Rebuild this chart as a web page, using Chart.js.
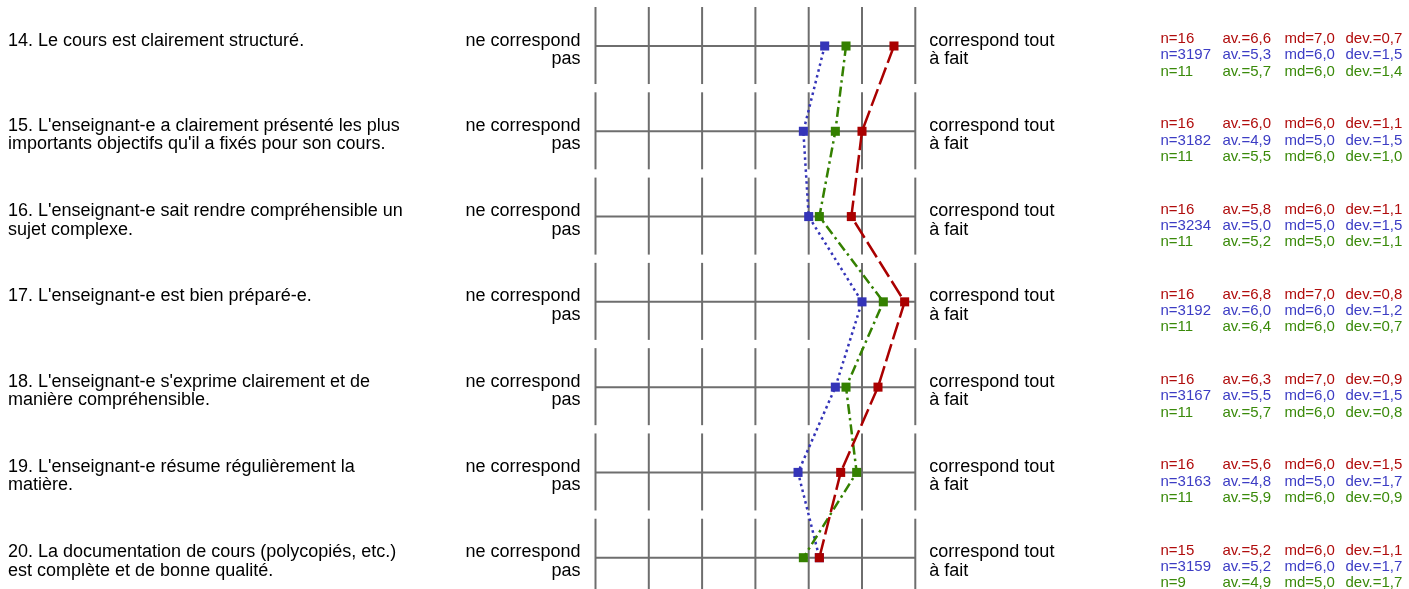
<!DOCTYPE html>
<html>
<head>
<meta charset="utf-8">
<script src="https://cdn.jsdelivr.net/npm/chart.js@4/dist/chart.umd.min.js"></script>
<style>
html,body{margin:0;padding:0;background:#fff;}
#wrap{width:1409px;height:589px;position:relative;}
</style>
</head>
<body>
<div id="wrap"><canvas id="c" width="1409" height="589"></canvas></div>
<script>
// ---- data ----
const questions = [
  ["14. Le cours est clairement structuré."],
  ["15. L'enseignant-e a clairement présenté les plus", "importants objectifs qu'il a fixés pour son cours."],
  ["16. L'enseignant-e sait rendre compréhensible un", "sujet complexe."],
  ["17. L'enseignant-e est bien préparé-e."],
  ["18. L'enseignant-e s'exprime clairement et de", "manière compréhensible."],
  ["19. L'enseignant-e résume régulièrement la", "matière."],
  ["20. La documentation de cours (polycopiés, etc.)", "est complète et de bonne qualité."]
];
const leftPole = ["ne correspond", "pas"];
const rightPole = ["correspond tout", "à fait"];
const scaleTicks = [1, 2, 3, 4, 5, 6, 7];

const redN   = [16, 16, 16, 16, 16, 16, 15];
const redAv  = [6.6, 6.0, 5.8, 6.8, 6.3, 5.6, 5.2];
const redMd  = [7.0, 6.0, 6.0, 7.0, 7.0, 6.0, 6.0];
const redDev = [0.7, 1.1, 1.1, 0.8, 0.9, 1.5, 1.1];

const blueN   = [3197, 3182, 3234, 3192, 3167, 3163, 3159];
const blueAv  = [5.3, 4.9, 5.0, 6.0, 5.5, 4.8, 5.2];
const blueMd  = [6.0, 5.0, 5.0, 6.0, 6.0, 5.0, 6.0];
const blueDev = [1.5, 1.5, 1.5, 1.2, 1.5, 1.7, 1.7];

const greenN   = [11, 11, 11, 11, 11, 11, 9];
const greenAv  = [5.7, 5.5, 5.2, 6.4, 5.7, 5.9, 4.9];
const greenMd  = [6.0, 6.0, 5.0, 6.0, 6.0, 6.0, 5.0];
const greenDev = [1.4, 1.0, 1.1, 0.7, 0.8, 0.9, 1.7];

// ---- styles ----
const RED = '#aa0000', BLUE = '#3434b8', GREEN = '#348000';
const RED_T = '#b00c0c', BLUE_T = '#3c3cc4', GREEN_T = '#3a8a0a';
const GRID = '#6e6e6e';
const FONT = '"Liberation Sans", Arial, sans-serif';

const series = [
  {label:'red', av:redAv, n:redN, md:redMd, dev:redDev, color:RED, tcolor:RED_T, dash:[18,5]},
  {label:'green', av:greenAv, n:greenN, md:greenMd, dev:greenDev, color:GREEN, tcolor:GREEN_T, dash:[10,4,2.5,4]},
  {label:'blue', av:blueAv, n:blueN, md:blueMd, dev:blueDev, color:BLUE, tcolor:BLUE_T, dash:[2.5,3.5]}
];

const fmt = v => v.toFixed(1).replace('.', ',');

const datasets = series.map(s => ({
  label: s.label,
  data: s.av.map((v, i) => ({x: v, y: i})),
  borderColor: s.color,
  backgroundColor: s.color,
  borderWidth: 2.5,
  borderDash: s.dash,
  pointStyle: 'rect',
  pointRadius: 6.4,
  pointBorderWidth: 0,
  pointBackgroundColor: s.color,
  tension: 0,
  fill: false,
  clip: false
}));

const gridPlugin = {
  id: 'profileGrid',
  beforeDatasetsDraw(chart) {
    const ctx = chart.ctx, xs = chart.scales.x, ys = chart.scales.y;
    ctx.save();
    ctx.strokeStyle = GRID;
    ctx.lineWidth = 2;
    questions.forEach((q, i) => {
      const yc = ys.getPixelForValue(i);
      const yt = ys.getPixelForValue(i - 0.457);
      const yb = ys.getPixelForValue(i + 0.446);
      scaleTicks.forEach(t => {
        const x = xs.getPixelForValue(t);
        ctx.beginPath(); ctx.moveTo(x, yt); ctx.lineTo(x, yb); ctx.stroke();
      });
      ctx.beginPath();
      ctx.moveTo(xs.getPixelForValue(scaleTicks[0]), yc);
      ctx.lineTo(xs.getPixelForValue(scaleTicks[scaleTicks.length - 1]), yc);
      ctx.stroke();
    });
    ctx.restore();
  },
  afterDraw(chart) {
    const ctx = chart.ctx, xs = chart.scales.x, ys = chart.scales.y;
    const xL = xs.getPixelForValue(1), xR = xs.getPixelForValue(7);
    ctx.save();
    ctx.textBaseline = 'alphabetic';
    questions.forEach((q, i) => {
      const yc = ys.getPixelForValue(i);
      ctx.font = '18px ' + FONT;
      ctx.fillStyle = '#000';
      ctx.textAlign = 'left';
      q.forEach((line, k) => ctx.fillText(line, 8, yc - 0.5 + k * 18.5));
      ctx.textAlign = 'right';
      leftPole.forEach((line, k) => ctx.fillText(line, xL - 15, yc - 0.5 + k * 18.5));
      ctx.textAlign = 'left';
      rightPole.forEach((line, k) => ctx.fillText(line, xR + 14, yc - 0.5 + k * 18.5));
      ctx.font = '15px ' + FONT;
      const order = [series[0], series[2], series[1]];
      order.forEach((s, k) => {
        const yy = yc - 3 + k * 16.3;
        ctx.fillStyle = s.tcolor;
        ctx.fillText('n=' + s.n[i], 1160.5, yy);
        ctx.fillText('av.=' + fmt(s.av[i]), 1222.5, yy);
        ctx.fillText('md=' + fmt(s.md[i]), 1284.5, yy);
        ctx.fillText('dev.=' + fmt(s.dev[i]), 1345.5, yy);
      });
    });
    ctx.restore();
  }
};

new Chart(document.getElementById('c'), {
  type: 'line',
  data: { datasets },
  options: {
    responsive: false,
    animation: false,
    events: [],
    layout: { autoPadding: false, padding: { left: 595.5, right: 493.7, top: 0, bottom: 0 } },
    plugins: { legend: { display: false }, tooltip: { enabled: false } },
    scales: {
      x: { type: 'linear', min: 1, max: 7, display: false },
      y: { type: 'linear', min: -0.5394, max: 6.367, reverse: true, display: false }
    }
  },
  plugins: [gridPlugin]
});
</script>
</body>
</html>
